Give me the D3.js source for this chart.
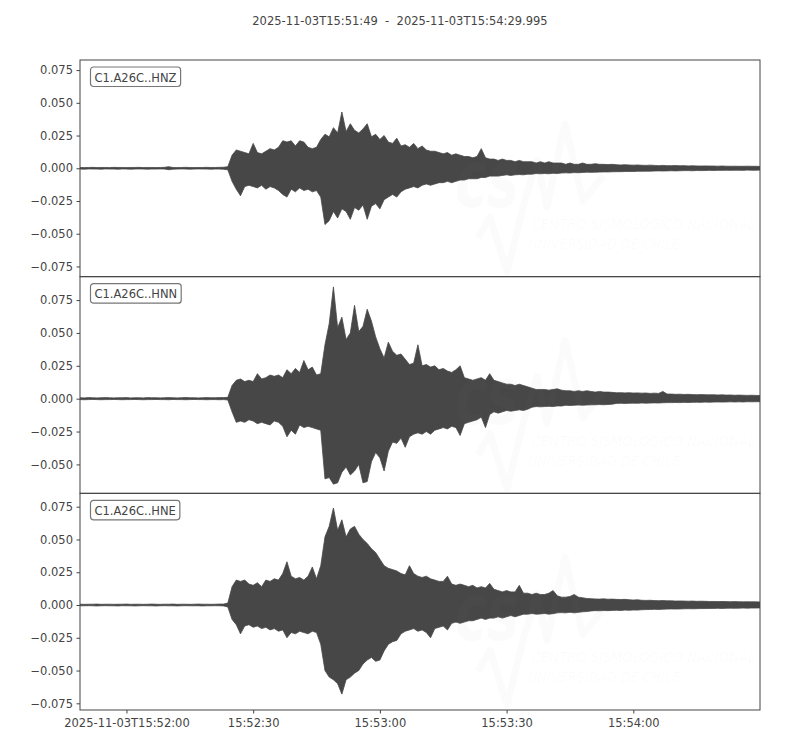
<!DOCTYPE html>
<html lang="en">

<head>
    <meta charset="UTF-8">
    <title>C1.A26C waveforms</title>
    <script src="https://d3js.org/d3.v7.min.js"></script>
    <style>
        body {
            margin: 0;
            background: #fff;
        }

        svg {
            font-family: "DejaVu Sans", sans-serif;
        }

        .tick text {
            font-size: 11.5px;
            fill: #444;
        }

        .tick line {
            stroke: #444;
        }

        .frame {
            fill: none;
            stroke: #444;
            stroke-width: 1;
        }

        .wave {
            fill: #474747;
            stroke: #474747;
            stroke-width: 0.8;
            stroke-linejoin: round;
        }

        .watermark {
            fill: #999;
            fill-opacity: 0.035;
        }
    </style>
</head>

<body>
    <svg id="svg" width="800" height="750"></svg>

    <script>
        // Trace window and channel names
        const startTime = "2025-11-03T15:51:49.000Z";
        const endTime = "2025-11-03T15:54:29.995Z";
        const channels = ["C1.A26C..HNZ", "C1.A26C..HNN", "C1.A26C..HNE"];

        // y limits per panel and tick values
        const yLimits = [[-0.0828, 0.0827], [-0.0720, 0.0928], [-0.0801, 0.0852]];
        const yTicks = [-0.075, -0.05, -0.025, 0, 0.025, 0.05, 0.075];

        const xTicks = ["2025-11-03T15:52:00Z", "2025-11-03T15:52:30Z", "2025-11-03T15:53:00Z", "2025-11-03T15:53:30Z", "2025-11-03T15:54:00Z"];
        const xTickLabels = ["2025-11-03T15:52:00", "15:52:30", "15:53:00", "15:53:30", "15:54:00"];

        // Per-second envelope of each trace (max / min within each second), from 15:51:49
        const hnzMax = [
            0.0006, 0.0005, 0.0006, 0.0007, 0.0005, 0.0006, 0.0006, 0.0005, 0.0007, 0.0006,
            0.0006, 0.0005, 0.0006, 0.0006, 0.0007, 0.0005, 0.0006, 0.0006, 0.0005, 0.0006,
            0.0007, 0.0012, 0.0006, 0.0005, 0.0006, 0.0007, 0.0006, 0.0005, 0.0006, 0.0006,
            0.0007, 0.0006, 0.0006, 0.0007, 0.0008, 0.0012, 0.010, 0.014, 0.013, 0.012,
            0.011, 0.019, 0.012, 0.011, 0.013, 0.015, 0.014, 0.016, 0.021, 0.020,
            0.021, 0.017, 0.021, 0.020, 0.016, 0.015, 0.016, 0.022, 0.026, 0.024,
            0.031, 0.027, 0.043, 0.028, 0.034, 0.029, 0.027, 0.030, 0.034, 0.024,
            0.026, 0.022, 0.025, 0.020, 0.019, 0.023, 0.017, 0.018, 0.016, 0.019,
            0.015, 0.017, 0.014, 0.013, 0.013, 0.012, 0.011, 0.012, 0.010, 0.011,
            0.010, 0.009, 0.009, 0.008, 0.009, 0.015, 0.008, 0.007, 0.007, 0.006,
            0.007, 0.006, 0.006, 0.005, 0.006, 0.005, 0.005, 0.005, 0.004, 0.005,
            0.004, 0.005, 0.004, 0.004, 0.004, 0.003, 0.004, 0.003, 0.003, 0.004,
            0.003, 0.003, 0.0035, 0.003, 0.003, 0.0028, 0.003, 0.0027, 0.0025, 0.0027,
            0.0025, 0.0024, 0.0025, 0.0023, 0.0022, 0.0024, 0.0022, 0.002, 0.0022, 0.002,
            0.002, 0.0021, 0.0019, 0.002, 0.0018, 0.0019, 0.0018, 0.0017, 0.0018, 0.0017,
            0.0017, 0.0016, 0.0017, 0.0016, 0.0015, 0.0016, 0.0015, 0.0015, 0.0016, 0.0015,
            0.0015, 0.0014
        ];
        const hnzMin = [
            -0.0006, -0.0007, -0.0005, -0.0006, -0.0006, -0.0007, -0.0005, -0.0006, -0.0006, -0.0007,
            -0.0005, -0.0006, -0.0007, -0.0006, -0.0005, -0.0006, -0.0007, -0.0006, -0.0006, -0.0005,
            -0.0006, -0.0011, -0.0007, -0.0006, -0.0005, -0.0006, -0.0007, -0.0006, -0.0005, -0.0006,
            -0.0006, -0.0007, -0.0006, -0.0006, -0.0008, -0.0012, -0.010, -0.016, -0.021, -0.014,
            -0.013, -0.014, -0.015, -0.013, -0.016, -0.014, -0.015, -0.017, -0.020, -0.022,
            -0.016, -0.018, -0.015, -0.017, -0.016, -0.018, -0.017, -0.022, -0.043, -0.040,
            -0.033, -0.038, -0.031, -0.033, -0.039, -0.030, -0.032, -0.028, -0.039, -0.029,
            -0.027, -0.031, -0.024, -0.022, -0.020, -0.022, -0.018, -0.016, -0.015, -0.014,
            -0.015, -0.013, -0.012, -0.013, -0.012, -0.011, -0.011, -0.010, -0.011, -0.010,
            -0.009, -0.009, -0.008, -0.008, -0.008, -0.007, -0.007, -0.006, -0.006, -0.006,
            -0.0055, -0.005, -0.0055, -0.005, -0.0048, -0.005, -0.0045, -0.0045, -0.004, -0.0042,
            -0.004, -0.0042, -0.0038, -0.004, -0.0036, -0.0035, -0.0036, -0.0033, -0.0034, -0.0032,
            -0.003, -0.0031, -0.003, -0.0029, -0.0028, -0.0028, -0.0027, -0.0026, -0.0026, -0.0025,
            -0.0024, -0.0025, -0.0023, -0.0023, -0.0022, -0.0022, -0.0021, -0.002, -0.0021, -0.002,
            -0.0019, -0.002, -0.0019, -0.0018, -0.0018, -0.0019, -0.0017, -0.0018, -0.0017, -0.0016,
            -0.0017, -0.0016, -0.0016, -0.0015, -0.0016, -0.0015, -0.0015, -0.0016, -0.0014, -0.0015,
            -0.0015, -0.0014
        ];

        const hnnMax = [
            0.0007, 0.0006, 0.0008, 0.0007, 0.0006, 0.0007, 0.0008, 0.0007, 0.0006, 0.0007,
            0.0007, 0.0008, 0.0006, 0.0007, 0.0007, 0.0006, 0.0008, 0.0007, 0.0007, 0.0006,
            0.0007, 0.0008, 0.0007, 0.0006, 0.0007, 0.0009, 0.0007, 0.0007, 0.0006, 0.0007,
            0.0008, 0.0007, 0.0007, 0.0008, 0.0008, 0.0010, 0.010, 0.014, 0.015, 0.013,
            0.014, 0.013, 0.019, 0.015, 0.016, 0.018, 0.017, 0.018, 0.016, 0.022,
            0.019, 0.023, 0.020, 0.029, 0.022, 0.024, 0.018, 0.019, 0.041, 0.057,
            0.085, 0.054, 0.062, 0.045, 0.050, 0.071, 0.051, 0.055, 0.068, 0.059,
            0.047, 0.038, 0.031, 0.043, 0.036, 0.033, 0.034, 0.030, 0.026, 0.027,
            0.041, 0.025, 0.026, 0.024, 0.025, 0.022, 0.023, 0.021, 0.020, 0.022,
            0.025, 0.016, 0.015, 0.014, 0.015, 0.016, 0.014, 0.019, 0.014, 0.013,
            0.012, 0.011, 0.011, 0.010, 0.011, 0.010, 0.009, 0.008, 0.007, 0.007,
            0.007, 0.0065, 0.007, 0.0075, 0.0065, 0.006, 0.006, 0.0055, 0.006, 0.0055,
            0.006, 0.0055, 0.005, 0.0055, 0.005, 0.005, 0.0048, 0.0045, 0.0046, 0.0044,
            0.0045, 0.0043, 0.0044, 0.0042, 0.0043, 0.004, 0.0042, 0.004, 0.0055, 0.0035,
            0.0035, 0.0033, 0.0034, 0.0032, 0.0033, 0.0031, 0.003, 0.0031, 0.003, 0.0029,
            0.003, 0.0028, 0.0029, 0.0027, 0.0028, 0.0026, 0.0027, 0.0026, 0.0025, 0.0026,
            0.0025, 0.0024
        ];
        const hnnMin = [
            -0.0007, -0.0008, -0.0007, -0.0006, -0.0007, -0.0008, -0.0007, -0.0007, -0.0006, -0.0007,
            -0.0008, -0.0007, -0.0007, -0.0006, -0.0007, -0.0008, -0.0007, -0.0007, -0.0006, -0.0007,
            -0.0007, -0.0008, -0.0006, -0.0007, -0.0007, -0.0008, -0.0007, -0.0006, -0.0007, -0.0007,
            -0.0008, -0.0007, -0.0007, -0.0008, -0.0007, -0.0010, -0.010, -0.018, -0.017, -0.018,
            -0.016, -0.017, -0.019, -0.018, -0.019, -0.020, -0.017, -0.018, -0.021, -0.029,
            -0.024, -0.027, -0.020, -0.022, -0.021, -0.022, -0.023, -0.024, -0.061, -0.060,
            -0.065, -0.064, -0.056, -0.052, -0.058, -0.055, -0.050, -0.064, -0.063, -0.048,
            -0.041, -0.045, -0.055, -0.040, -0.033, -0.034, -0.030, -0.037, -0.029, -0.027,
            -0.026, -0.027, -0.025, -0.027, -0.024, -0.023, -0.022, -0.023, -0.021, -0.022,
            -0.028, -0.019, -0.018, -0.017, -0.016, -0.014, -0.022, -0.012, -0.010, -0.011,
            -0.010, -0.009, -0.0095, -0.009, -0.0085, -0.009, -0.008, -0.0065, -0.006, -0.0062,
            -0.006, -0.0058, -0.006, -0.0055, -0.0056, -0.005, -0.0052, -0.005, -0.0048, -0.005,
            -0.0048, -0.0047, -0.0046, -0.0045, -0.0046, -0.0044, -0.0042, -0.0036, -0.0035, -0.0036,
            -0.0035, -0.0034, -0.0035, -0.0033, -0.0034, -0.0033, -0.0032, -0.0033, -0.0031, -0.003,
            -0.003, -0.0029, -0.003, -0.0028, -0.0029, -0.0028, -0.0027, -0.0028, -0.0026, -0.0027,
            -0.0026, -0.0025, -0.0026, -0.0025, -0.0024, -0.0025, -0.0024, -0.0025, -0.0023, -0.0024,
            -0.0023, -0.0023
        ];

        const hneMax = [
            0.0006, 0.0005, 0.0006, 0.0006, 0.0007, 0.0005, 0.0006, 0.0006, 0.0005, 0.0006,
            0.0006, 0.0007, 0.0005, 0.0006, 0.0006, 0.0005, 0.0006, 0.0007, 0.0006, 0.0005,
            0.0006, 0.0006, 0.0007, 0.0005, 0.0006, 0.0006, 0.0005, 0.0006, 0.0007, 0.0006,
            0.0006, 0.0005, 0.0006, 0.0007, 0.0007, 0.0015, 0.014, 0.019, 0.018, 0.019,
            0.016, 0.015, 0.017, 0.014, 0.019, 0.018, 0.020, 0.019, 0.024, 0.033,
            0.022, 0.020, 0.021, 0.019, 0.022, 0.029, 0.020, 0.030, 0.052, 0.060,
            0.074, 0.057, 0.065, 0.052, 0.058, 0.060, 0.054, 0.050, 0.047, 0.043,
            0.040, 0.035, 0.030, 0.028, 0.027, 0.026, 0.024, 0.023, 0.030, 0.024,
            0.022, 0.021, 0.022, 0.020, 0.019, 0.018, 0.018, 0.022, 0.016, 0.015,
            0.016, 0.015, 0.014, 0.015, 0.013, 0.014, 0.013, 0.0165, 0.012, 0.011,
            0.010, 0.011, 0.010, 0.010, 0.015, 0.009, 0.009, 0.008, 0.009, 0.008,
            0.008, 0.009, 0.011, 0.007, 0.006, 0.006, 0.0065, 0.008, 0.006, 0.0055,
            0.005, 0.0048, 0.0046, 0.0045, 0.0047, 0.0044, 0.0045, 0.0043, 0.0042, 0.0043,
            0.004, 0.0038, 0.004, 0.0036, 0.0035, 0.0036, 0.0034, 0.0033, 0.0034, 0.0032,
            0.0032, 0.003, 0.0031, 0.003, 0.0029, 0.003, 0.0028, 0.0029, 0.0028, 0.0027,
            0.0027, 0.0026, 0.0027, 0.0026, 0.0025, 0.0026, 0.0025, 0.0024, 0.0025, 0.0024,
            0.0024, 0.0023
        ];
        const hneMin = [
            -0.0006, -0.0006, -0.0005, -0.0006, -0.0007, -0.0006, -0.0005, -0.0006, -0.0006, -0.0007,
            -0.0005, -0.0006, -0.0006, -0.0007, -0.0006, -0.0005, -0.0006, -0.0006, -0.0007, -0.0006,
            -0.0005, -0.0006, -0.0006, -0.0007, -0.0006, -0.0005, -0.0006, -0.0006, -0.0006, -0.0007,
            -0.0006, -0.0006, -0.0005, -0.0006, -0.0007, -0.0015, -0.011, -0.015, -0.022, -0.016,
            -0.015, -0.017, -0.016, -0.018, -0.017, -0.019, -0.018, -0.020, -0.019, -0.025,
            -0.021, -0.022, -0.020, -0.021, -0.022, -0.020, -0.021, -0.030, -0.050, -0.055,
            -0.057, -0.060, -0.068, -0.057, -0.055, -0.052, -0.050, -0.045, -0.042, -0.040,
            -0.043, -0.042, -0.035, -0.030, -0.028, -0.027, -0.022, -0.020, -0.019, -0.018,
            -0.020, -0.019, -0.021, -0.025, -0.018, -0.017, -0.016, -0.019, -0.014, -0.013,
            -0.014, -0.013, -0.012, -0.012, -0.011, -0.010, -0.011, -0.010, -0.010, -0.009,
            -0.010, -0.009, -0.008, -0.009, -0.008, -0.007, -0.007, -0.0065, -0.007, -0.0068,
            -0.0065, -0.007, -0.0066, -0.006, -0.0058, -0.006, -0.0055, -0.006, -0.0056, -0.0052,
            -0.005, -0.0045, -0.0043, -0.0044, -0.0042, -0.0043, -0.0041, -0.004, -0.0042, -0.0039,
            -0.004, -0.0038, -0.0039, -0.0036, -0.0035, -0.0034, -0.0033, -0.0034, -0.0032, -0.0031,
            -0.003, -0.0031, -0.003, -0.0029, -0.0028, -0.0029, -0.0028, -0.0027, -0.0027, -0.0026,
            -0.0026, -0.0025, -0.0026, -0.0025, -0.0024, -0.0025, -0.0024, -0.0023, -0.0024, -0.0023,
            -0.0023, -0.0022
        ];

        const traceMax = [hnzMax, hnnMax, hneMax];
        const traceMin = [hnzMin, hnnMin, hneMin];

        // Layout
        const width = 800;
        const height = 750;
        const margin = { top: 60, right: 40, bottom: 40, left: 80 };
        const plotW = width - margin.left - margin.right;
        const panelH = (height - margin.top - margin.bottom) / channels.length;

        const svg = d3.select("#svg");

        const t0 = new Date(startTime);
        const x = d3.scaleUtc()
            .domain([t0, new Date(endTime)])
            .range([0, plotW]);
        const sampleTime = i => new Date(t0.getTime() + i * 1000);

        // Title, centred on the figure (not the axes)
        svg.append("text")
            .attr("x", width / 2)
            .attr("y", 25)
            .attr("text-anchor", "middle")
            .style("white-space", "pre")
            .style("font-size", "11.5px")
            .attr("fill", "#444")
            .text("2025-11-03T15:51:49  -  2025-11-03T15:54:29.995");

        channels.forEach((name, k) => {
            const g = svg.append("g")
                .attr("transform", `translate(${margin.left},${margin.top + k * panelH})`);

            const y = d3.scaleLinear().domain(yLimits[k]).range([panelH, 0]);

            g.append("clipPath").attr("id", "clip" + k)
                .append("rect").attr("width", plotW).attr("height", panelH);

            const data = traceMax[k].map((v, i) => ({ t: sampleTime(i), hi: v, lo: traceMin[k][i] }));

            const area = d3.area()
                .x(d => x(d.t))
                .y0(d => y(d.lo))
                .y1(d => y(d.hi));

            g.append("path")
                .datum(data)
                .attr("class", "wave")
                .attr("clip-path", `url(#clip${k})`)
                .attr("d", area);

            // faint agency watermark (letters "cs" + the seismic line that makes the "n"), over the trace
            const wm = g.append("g").attr("class", "watermark");
            wm.append("text")
                .attr("x", 375).attr("y", 147)
                .attr("textLength", 64).attr("lengthAdjust", "spacingAndGlyphs")
                .style("font-size", "80px").style("font-style", "italic").style("font-weight", "bold")
                .text("cs");
            wm.append("path")
                .attr("d", "M398,178 L410,157 L427,212 L443,147 L457,100 L467,147 L477,100 L485,64 L503,141 L523,116")
                .attr("fill", "none")
                .attr("stroke", "#999").attr("stroke-opacity", 0.035)
                .attr("stroke-width", 7).attr("stroke-linejoin", "round");
            wm.append("text")
                .attr("x", 452).attr("y", 169)
                .attr("textLength", 223).attr("lengthAdjust", "spacingAndGlyphs")
                .style("font-size", "14px").style("font-style", "italic")
                .text("CENTRO SISMOLÓGICO NACIONAL");
            wm.append("text")
                .attr("x", 448).attr("y", 189)
                .attr("textLength", 152).attr("lengthAdjust", "spacingAndGlyphs")
                .style("font-size", "14px").style("font-style", "italic")
                .text("UNIVERSIDAD DE CHILE");

            g.append("rect")
                .attr("class", "frame")
                .attr("width", plotW)
                .attr("height", panelH);

            const yAxis = g.append("g")
                .call(d3.axisLeft(y)
                    .tickValues(yTicks.filter(v => v >= yLimits[k][0] && v <= yLimits[k][1]))
                    .tickFormat(d3.format(".3f"))
                    .tickSize(3.5)
                    .tickPadding(3.5));
            yAxis.select(".domain").remove();
            yAxis.selectAll("text").style("font-family", "DejaVu Sans");

            // channel label box
            const label = g.append("g").attr("transform", "translate(10,7)");
            const lt = label.append("text")
                .attr("x", 4.5).attr("y", 14.5)
                .style("font-size", "11.5px")
                .attr("fill", "#444")
                .text(name);
            const bb = lt.node().getBBox();
            label.insert("rect", "text")
                .attr("x", bb.x - 4).attr("y", 0)
                .attr("width", bb.width + 8).attr("height", 19.5)
                .attr("rx", 3)
                .attr("fill", "#fff")
                .attr("stroke", "#777")
                .attr("stroke-width", 1.2);

            if (k === channels.length - 1) {
                const xAxis = g.append("g")
                    .attr("transform", `translate(0,${panelH})`)
                    .call(d3.axisBottom(x)
                        .tickValues(xTicks.map(s => new Date(s)))
                        .tickFormat((d, i) => xTickLabels[i])
                        .tickSize(3.5)
                        .tickPadding(5));
                xAxis.select(".domain").remove();
                xAxis.selectAll("text").style("font-family", "DejaVu Sans");
            }
        });
    </script>
</body>

</html>
